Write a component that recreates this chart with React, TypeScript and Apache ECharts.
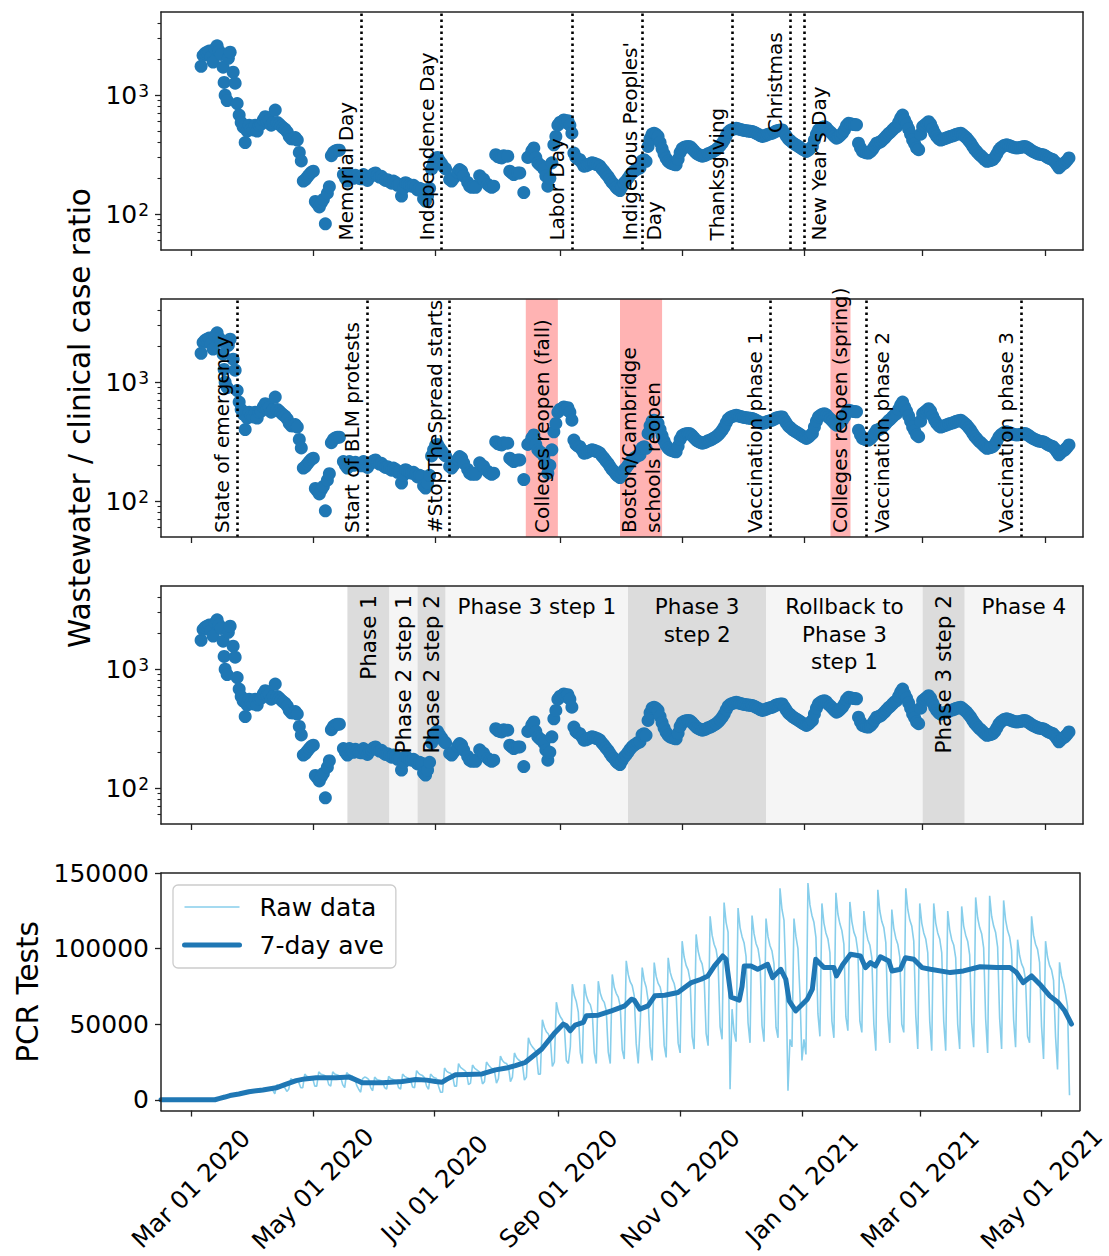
import React, { useEffect, useRef } from "react";
import * as echarts from "echarts";

const FONT = "DejaVu Sans";
const SPINE = "#222222";
const BLUE = "#1f77b4";
const SKY = "#87ceeb";
const PINK = "#ffb3b3";
const DARK_BAND = "#dcdcdc";
const LIGHT_BAND = "#f5f5f5";

// ---------- axes ----------
const dayZero = "2020-03-01";
const xRange = ["2020-02-15", "2021-05-20"];
const xTickDates = [
  "2020-03-01", "2020-05-01", "2020-07-01", "2020-09-01",
  "2020-11-01", "2021-01-01", "2021-03-01", "2021-05-01",
];
const monthNames = ["Jan", "Feb", "Mar", "Apr", "May", "Jun", "Jul", "Aug", "Sep", "Oct", "Nov", "Dec"];
const ratioRange = [50, 5000];
const ratioMajorTicks = [100, 1000];
const ratioMinorTicks = [60, 70, 80, 90, 200, 300, 400, 500, 600, 700, 800, 900, 2000, 3000, 4000];
const pcrRange = [-7150, 150150];
const pcrTicks = [0, 50000, 100000, 150000];

// ---------- wastewater / clinical case ratio: [days since 2020-03-01, ratio] ----------
const wastewaterRatio: [number, number][] = [
  [5, 1750], [6, 2150], [7, 2250], [8, 2300], [9, 2350], [10, 2100], [11, 1900], [12, 2450], [13, 2600],
  [14, 2350], [15, 2200], [16, 1720], [16.5, 1280], [17, 1000], [18, 900], [18.6, 2040], [19.5, 2300],
  [21, 1560], [22, 1260], [23, 850], [24, 680], [25, 590], [26, 540], [27, 400], [28, 500], [29, 560],
  [30, 520], [31, 510], [32, 560], [33, 500], [34, 560], [35, 570], [36, 620], [37, 660], [38, 600],
  [39, 610], [40, 560], [41, 590], [42, 750], [43, 590], [44, 570], [45, 550], [46, 530], [47, 515],
  [48, 490], [49, 450], [50, 430], [51, 430], [52, 440], [53, 420], [54, 330], [55, 280], [56, 190],
  [57, 195], [58, 205], [59, 215], [60, 225], [61, 230], [62, 128], [63, 122], [64, 115], [65, 125],
  [66, 133], [67, 83], [68, 150], [69, 170], [70, 310], [71, 330], [72, 340], [73, 345], [74, 345],
  [76, 215], [77, 200], [78, 190], [79, 215], [80, 205], [81, 200], [82, 212], [83, 208], [84, 200],
  [85, 198], [86, 215], [87, 205], [88, 192], [89, 205], [90, 210], [91, 218], [92, 222], [93, 212],
  [94, 205], [95, 208], [96, 198], [97, 192], [98, 195], [99, 188], [100, 182], [101, 190], [102, 185],
  [103, 175], [104, 178], [105, 142], [106, 165], [107, 184], [108, 180], [109, 175], [110, 172],
  [111, 175], [112, 168], [113, 160], [114, 165], [115, 162], [116, 135], [117, 129], [118, 142],
  [119, 165], [120, 240], [121, 270], [122, 295], [123, 300], [124, 280], [125, 265], [126, 250],
  [127, 240], [129, 196], [130, 190], [131, 200], [133, 225], [134, 237], [135, 230], [136, 209],
  [138, 185], [139, 172], [140, 168], [141, 172], [142, 168], [144, 210], [145, 200], [146, 196],
  [148, 178], [149, 172], [150, 168], [151, 172], [152, 316], [153, 305], [154, 300], [155, 297],
  [156, 310], [158, 307], [159, 230], [160, 222], [161, 215], [163, 222], [164, 222], [166, 152],
  [168, 300], [169, 307], [170, 340], [171, 360], [172, 300], [173, 270], [174, 260], [175, 253],
  [176, 240], [177, 209], [178, 172], [179, 200], [180, 270], [181, 383], [182, 450], [183, 560],
  [184, 590], [185, 600], [186, 620], [187, 590], [188, 610], [189, 560], [190, 479], [191, 326],
  [192, 300], [193, 290], [194, 287], [195, 270], [196, 253], [197, 255], [198, 260], [199, 265],
  [200, 270], [201, 268], [202, 262], [203, 260], [204, 253], [205, 240], [206, 230], [207, 218],
  [208, 208], [209, 196], [210, 185], [211, 178], [212, 168], [213, 162], [214, 158], [215, 170],
  [216, 182], [217, 190], [218, 200], [219, 212], [220, 222], [221, 230], [222, 236], [223, 242],
  [224, 245], [225, 280], [226, 287], [227, 278], [228, 371], [229, 430], [230, 470], [231, 479],
  [232, 468], [233, 450], [234, 400], [235, 355], [236, 320], [237, 295], [238, 278], [239, 270],
  [240, 266], [241, 262], [242, 260], [243, 290], [244, 330], [245, 355], [246, 365], [247, 368],
  [248, 371], [249, 368], [250, 355], [251, 340], [252, 326], [253, 318], [254, 312], [255, 307],
  [256, 310], [257, 315], [258, 322], [259, 326], [260, 333], [261, 340], [262, 348], [263, 360],
  [264, 375], [265, 395], [266, 420], [267, 455], [268, 490], [269, 505], [270, 515], [271, 522],
  [272, 527], [273, 522], [274, 515], [275, 510], [276, 506], [277, 503], [278, 500], [279, 497],
  [280, 495], [281, 488], [282, 478], [283, 468], [284, 458], [285, 450], [286, 455], [287, 462],
  [288, 470], [289, 475], [290, 479], [291, 490], [292, 500], [293, 505], [294, 510], [295, 510],
  [296, 480], [297, 452], [298, 428], [299, 415], [300, 400], [301, 390], [302, 380], [303, 372],
  [304, 362], [305, 352], [306, 345], [307, 337], [308, 345], [309, 358], [310, 371], [311, 420],
  [312, 470], [313, 510], [314, 525], [315, 538], [316, 544], [317, 530], [318, 505], [319, 490],
  [320, 470], [321, 450], [322, 435], [323, 445], [324, 460], [325, 479], [326, 510], [327, 555],
  [328, 580], [329, 575], [330, 570], [331, 566], [332, 563], [333, 395], [334, 360], [335, 337],
  [336, 332], [337, 328], [338, 326], [339, 335], [340, 350], [341, 372], [342, 395], [343, 400],
  [344, 405], [345, 420], [346, 435], [347, 455], [348, 475], [349, 490], [350, 510], [351, 530],
  [352, 544], [353, 590], [354, 640], [355, 681], [356, 620], [357, 570], [358, 520], [359, 470],
  [360, 420], [361, 390], [362, 360], [363, 348], [364, 470], [365, 544], [366, 560], [367, 580],
  [368, 599], [369, 570], [370, 520], [371, 479], [372, 450], [373, 430], [374, 420], [375, 425],
  [376, 432], [377, 438], [378, 445], [379, 450], [380, 455], [381, 462], [382, 470], [383, 475],
  [384, 479], [385, 465], [386, 450], [387, 435], [388, 415], [389, 395], [390, 371], [391, 350],
  [392, 335], [393, 320], [394, 310], [395, 298], [396, 287], [397, 278], [398, 280], [399, 283],
  [400, 287], [401, 300], [402, 320], [403, 345], [404, 360], [405, 372], [406, 380], [407, 383],
  [408, 378], [409, 372], [410, 366], [411, 362], [412, 360], [413, 362], [414, 365], [415, 368],
  [416, 371], [417, 365], [418, 355], [419, 345], [420, 337], [421, 330], [422, 325], [423, 320],
  [424, 318], [425, 316], [426, 310], [427, 302], [428, 296], [429, 291], [430, 287], [431, 275],
  [432, 260], [433, 245], [434, 255], [435, 265], [436, 270], [437, 282], [438, 297],
];

// ---------- PCR tests (thousands per day), daily from Sun 2020-02-16 ----------
const pcrRawStart = "2020-02-16";
const pcrRawThousands = [
  0, 0, 0, 0, 0, 0, 0,
  0, 0, 0, 0, 0, 0, 0,
  0, 0, 0, 0, 0, 0, 0,
  0, 0, 0, 0, 0, 0.2, 0.4,
  0.6, 1.5, 2, 2.6, 2.9, 3.1, 2.6,
  2.8, 3.6, 4.1, 4.3, 4.6, 4.4, 3.8,
  4.2, 5.2, 5.6, 5.9, 6.1, 5.9, 5.1,
  5.4, 6.6, 7.2, 7.3, 7.1, 6.9, 6.2,
  4, 10, 9, 8.8, 8.5, 8, 5.5,
  7, 14, 13, 12.5, 12.3, 11.5, 8,
  8, 17, 15.5, 15, 14.8, 14, 9,
  9, 18.5, 17, 16.5, 16, 15, 10,
  9, 18.5, 17, 16.5, 16, 15, 10,
  8, 18, 16.5, 16, 15.5, 14.5, 9.5,
  7, 5, 14, 15, 14.5, 13.5, 8,
  6, 15, 13.5, 13, 12.8, 12, 8,
  7, 15.5, 14, 13.5, 13, 12.5, 8,
  7, 17, 15.5, 14.8, 14.2, 13, 8.5,
  8, 19.3, 17.5, 16.5, 16, 14.5, 9,
  7, 17, 15.5, 14.5, 14, 9, 5,
  5, 21, 19, 18, 17.5, 16, 9,
  9, 24, 21.5, 20.5, 19.5, 18, 10,
  11, 23, 21, 20, 19, 17.5, 10.5,
  12, 25, 23, 21.5, 20.5, 19, 11,
  14, 29, 26, 24.5, 24, 22, 12,
  15, 31, 28, 26.5, 25.5, 23.5, 13,
  15, 41, 37, 35, 33.5, 31, 17,
  17, 53, 48, 45, 43.5, 40, 22,
  25, 64.6, 58, 55, 53, 48.5, 26,
  24, 35, 76.5, 69, 65, 58, 31,
  24, 76.5, 69, 65, 63, 57.5, 31,
  24, 78.5, 70.5, 66.5, 64.5, 59, 31.5,
  24, 83, 74.5, 70.5, 68, 62, 33,
  27, 92, 83, 78, 75.5, 69, 37,
  24, 50, 87.5, 79, 74.5, 65.5, 35,
  26, 90.8, 81.7, 77, 74.5, 68, 36,
  28, 94, 84.5, 80, 77, 70.5, 37.5,
  31, 105, 94.5, 89, 86, 79, 42,
  33.6, 109.5, 98.5, 93, 90, 82, 44,
  35.8, 121.5, 109, 103, 99.5, 91, 48.5,
  40, 130.6, 117.5, 111, 7, 60, 45,
  38.5, 127, 114, 108, 104, 95, 51,
  37.7, 122, 110, 103.5, 100, 91.5, 49,
  38.5, 120, 108, 102, 98.5, 90, 48,
  41, 140, 126, 119, 80, 6, 40,
  35, 120, 108, 100, 70, 26, 40,
  30, 143.5, 129, 122, 117.5, 107.5, 57,
  42, 130, 117, 110.5, 106.5, 97.5, 52,
  41, 137, 123, 116.5, 112, 103, 55,
  45.7, 131, 118, 111, 107.5, 98, 52,
  44.6, 125, 112.5, 106, 102.5, 94, 50,
  32.5, 139, 125, 118, 114, 104, 55.6,
  37.7, 126, 113.5, 107, 103, 94.5, 50,
  44.6, 140, 126, 119, 115, 105, 56,
  33.6, 130, 117, 110.5, 106.5, 97.5, 52,
  32.5, 130, 117, 110.5, 106.5, 97.5, 52,
  32.5, 125, 112.5, 106, 102.5, 94, 50,
  33.6, 128, 115, 109, 105, 96, 51,
  34.8, 134, 120.5, 114, 110, 100.5, 53.6,
  31, 135, 121.5, 115, 110.7, 101, 54,
  33.6, 132, 119, 112, 108, 99, 53,
  34.8, 106, 95.5, 90, 87, 79.5, 42,
  37.7, 121.5, 109, 103, 99.6, 91, 48.6,
  27, 105, 94.5, 89, 86, 79, 42,
  20, 91, 82, 77, 70, 62, 3,
];

// 7-day average: [days since 2020-03-01, thousands]
const pcrAvgThousands: [number, number][] = [
  [-15, 0], [12, 0], [14, 0.8], [17, 1.8], [19.5, 2.8], [24, 3.8], [29, 5.3], [36, 6.5], [42.7, 7.9],
  [47, 10], [52.7, 12.7], [57, 13.8], [62.7, 14.5], [72.7, 14.5], [79.3, 15], [82, 13.5], [85.9, 11.2],
  [95.8, 11.2], [105.8, 12.1], [112.6, 13.4], [118, 13], [122.5, 12.1], [125.8, 11.6], [128, 13.5],
  [132.5, 16.5], [138, 16.8], [145.8, 17.1], [152.5, 19.8], [158, 21], [162.5, 22.6], [167.5, 24.8],
  [175.7, 33.6], [182.4, 44.6], [186.5, 50.1], [188, 49], [189.9, 45.7], [192.4, 49.4], [196.5, 51.2],
  [198, 55.6], [204, 56], [210.6, 58.9], [217.3, 62.2], [220.6, 66.6], [222, 66], [224.8, 60],
  [228.9, 62.2], [232.3, 68.8], [237.3, 69.2], [243.9, 71], [250.6, 77.6], [255.5, 79.8], [258.9, 82],
  [262.2, 88.6], [266.3, 95.2], [268, 93], [269.3, 80], [270.5, 68], [274.6, 66], [276, 75],
  [277.1, 88.6], [280.5, 88.6], [283.8, 86.4], [288.8, 89.7], [291.3, 80.9], [295.4, 86.4],
  [297.9, 79.8], [299.6, 65.5], [302.9, 58.9], [308.7, 66.6], [311.2, 73.2], [312.9, 93], [317, 87.5],
  [322, 87.5], [323.3, 82], [326.2, 89], [330.3, 96.3], [335.3, 95.2], [337.8, 87.5], [340.3, 90.8],
  [342.8, 88.6], [345.3, 94.7], [349.5, 91.9], [351.1, 85.3], [355.3, 86.4], [357.8, 94], [362, 93],
  [366.1, 87.5], [370.3, 86.4], [380.3, 84.2], [386.9, 85.3], [395.2, 88.1], [403.5, 87.5],
  [410.2, 87.5], [413.5, 84.2], [416.8, 77.6], [421, 82], [425.1, 76.5], [430.1, 68.8], [434.3, 64.4],
  [437.6, 58.9], [441, 50.1],
];

// ---------- annotations ----------
const holidays = [
  { label: "Memorial Day", date: "2020-05-25", side: "left", at: 60 },
  { label: "Independence Day", date: "2020-07-04", side: "left", at: 60 },
  { label: "Labor Day", date: "2020-09-07", side: "left", at: 60 },
  { label: "Indigenous Peoples'\nDay", date: "2020-10-12", side: "center", at: 60 },
  { label: "Thanksgiving", date: "2020-11-26", side: "left", at: 60 },
  { label: "Christmas", date: "2020-12-25", side: "left", at: 480 },
  { label: "New Year's Day", date: "2021-01-01", side: "right", at: 60 },
];
const events = [
  { label: "State of emergency", date: "2020-03-24", side: "left" },
  { label: "Start of BLM protests", date: "2020-05-28", side: "left" },
  { label: "#StopTheSpread starts", date: "2020-07-08", side: "left" },
  { label: "Vaccination phase 1", date: "2020-12-15", side: "left" },
  { label: "Vaccination phase 2", date: "2021-02-01", side: "right" },
  { label: "Vaccination phase 3", date: "2021-04-19", side: "left" },
];
const eventBands = [
  { label: "Colleges reopen (fall)", start: "2020-08-15", end: "2020-08-31" },
  { label: "Boston/Cambridge\nschools reopen", start: "2020-10-01", end: "2020-10-22" },
  { label: "Colleges reopen (spring)", start: "2021-01-14", end: "2021-01-24" },
];
const phases = [
  { label: "Phase 1", start: "2020-05-18", end: "2020-06-08", dark: true, vertical: true },
  { label: "Phase 2 step 1", start: "2020-06-08", end: "2020-06-22", dark: false, vertical: true },
  { label: "Phase 2 step 2", start: "2020-06-22", end: "2020-07-06", dark: true, vertical: true },
  { label: "Phase 3 step 1", start: "2020-07-06", end: "2020-10-05", dark: false, vertical: false },
  { label: "Phase 3\nstep 2", start: "2020-10-05", end: "2020-12-13", dark: true, vertical: false },
  { label: "Rollback to\nPhase 3\nstep 1", start: "2020-12-13", end: "2021-03-01", dark: false, vertical: false },
  { label: "Phase 3 step 2", start: "2021-03-01", end: "2021-03-22", dark: true, vertical: true },
  { label: "Phase 4", start: "2021-03-22", end: "2021-05-20", dark: false, vertical: false },
];

// ---------- helpers ----------
const toTime = (s: string) => {
  const [y, m, d] = s.split("-").map(Number);
  return Date.UTC(y, m - 1, d);
};
const DAY_MS = 86400000;
const T0 = toTime(dayZero);
const fromDay = (d: number) => T0 + d * DAY_MS;
const fmtDate = (v: number) => {
  const d = new Date(v);
  const dd = String(d.getUTCDate()).padStart(2, "0");
  return `${monthNames[d.getUTCMonth()]} ${dd} ${d.getUTCFullYear()}`;
};

const GRID_TOPS = [12, 299, 586, 873];
const GRID_H = 238;
const TICK_FONT = 25;
const lineStyleSpine = { color: SPINE, width: 1.5 };

function buildOption(): any {
  const xMin = toTime(xRange[0]);
  const xMax = toTime(xRange[1]);
  const xTicks = xTickDates.map(toTime);

  const grid = GRID_TOPS.map((top) => ({ left: 161, right: 26, top, height: GRID_H, containLabel: false }));

  const xAxis: any[] = [];
  for (let i = 0; i < 4; i++) {
    const withLabels = i === 3;
    xAxis.push({
      type: "value", gridIndex: i, position: "bottom", min: xMin, max: xMax, z: 10, scale: true,
      axisLine: { show: true, onZero: false, lineStyle: lineStyleSpine },
      axisTick: { show: true, length: 6, lineStyle: { color: SPINE, width: 1.3 }, customValues: xTicks },
      axisLabel: withLabels
        ? {
            show: true, customValues: xTicks, formatter: (v: number) => fmtDate(v), rotate: 45,
            align: "center", verticalAlign: "middle", margin: 78, fontSize: 24.5, fontFamily: FONT,
            color: "#000", hideOverlap: false,
          }
        : { show: false },
      splitLine: { show: false },
    });
    xAxis.push({
      type: "value", gridIndex: i, position: "top", min: xMin, max: xMax, z: 10, scale: true,
      axisLine: { show: true, onZero: false, lineStyle: lineStyleSpine },
      axisTick: { show: false }, axisLabel: { show: false }, splitLine: { show: false },
    });
  }

  const yAxis: any[] = [];
  for (let i = 0; i < 3; i++) {
    yAxis.push({
      type: "log", logBase: 10, gridIndex: i, min: ratioRange[0], max: ratioRange[1], position: "left", z: 10,
      axisLine: { show: true, onZero: false, lineStyle: lineStyleSpine },
      axisTick: { show: true, length: 6, lineStyle: { color: SPINE, width: 1.3 }, customValues: ratioMajorTicks },
      axisLabel: {
        show: true, customValues: ratioMajorTicks, margin: 12,
        formatter: (v: number) => `{b|10}{s|${Math.round(Math.log10(v))}}`,
        rich: {
          b: { fontSize: TICK_FONT, fontFamily: FONT, color: "#000" },
          s: { fontSize: 17, fontFamily: FONT, color: "#000", verticalAlign: "top", padding: [0, 0, 0, 1] },
        },
      },
      splitLine: { show: false },
    });
    yAxis.push({
      type: "log", logBase: 10, gridIndex: i, min: ratioRange[0], max: ratioRange[1], position: "left", z: 10,
      axisLine: { show: false },
      axisTick: { show: true, length: 3.5, lineStyle: { color: SPINE, width: 1.1 }, customValues: ratioMinorTicks },
      axisLabel: { show: false }, splitLine: { show: false },
    });
    yAxis.push({
      type: "value", gridIndex: i, min: 0, max: 1, position: "right", z: 10,
      axisLine: { show: true, onZero: false, lineStyle: lineStyleSpine },
      axisTick: { show: false }, axisLabel: { show: false }, splitLine: { show: false },
    });
  }
  yAxis.push({
    type: "value", gridIndex: 3, min: pcrRange[0], max: pcrRange[1], position: "left", z: 10,
    axisLine: { show: true, onZero: false, lineStyle: lineStyleSpine },
    axisTick: { show: true, length: 6, lineStyle: { color: SPINE, width: 1.3 }, customValues: pcrTicks },
    axisLabel: {
      show: true, customValues: pcrTicks, margin: 12, fontSize: TICK_FONT, fontFamily: FONT, color: "#000",
      formatter: (v: number) => String(v),
    },
    splitLine: { show: false },
  });
  yAxis.push({
    type: "value", gridIndex: 3, min: 0, max: 1, position: "right", z: 10,
    axisLine: { show: true, onZero: false, lineStyle: lineStyleSpine },
    axisTick: { show: false }, axisLabel: { show: false }, splitLine: { show: false },
  });

  const wwData = wastewaterRatio.map(([d, v]) => [fromDay(d), v]);
  const rawStart = toTime(pcrRawStart);
  const rawData = pcrRawThousands.map((v, i) => [rawStart + i * DAY_MS, v * 1000]);
  const avgData = pcrAvgThousands.map(([d, v]) => [fromDay(d), v * 1000]);

  const scatter = (xi: number, yi: number) => ({
    type: "scatter", xAxisIndex: xi, yAxisIndex: yi, data: wwData, symbolSize: 13,
    itemStyle: { color: BLUE, opacity: 1 }, z: 3, silent: true,
  });
  const dotted = { color: "#000", width: 2.6, type: [2.6, 3.4], cap: "butt" };

  const series: any[] = [
    scatter(0, 0),
    scatter(2, 3),
    scatter(4, 6),
    {
      type: "line", xAxisIndex: 0, yAxisIndex: 0, data: [], z: 5, silent: true,
      markLine: {
        silent: true, symbol: ["none", "none"], label: { show: false }, lineStyle: dotted, animation: false,
        data: holidays.map((h) => ({ xAxis: toTime(h.date) })),
      },
    },
    {
      type: "line", xAxisIndex: 2, yAxisIndex: 3, data: [], z: 1, silent: true,
      markArea: {
        silent: true, label: { show: false }, animation: false,
        data: eventBands.map((b) => [
          { xAxis: toTime(b.start), itemStyle: { color: PINK, opacity: 1 } },
          { xAxis: toTime(b.end) },
        ]),
      },
    },
    {
      type: "line", xAxisIndex: 2, yAxisIndex: 3, data: [], z: 5, silent: true,
      markLine: {
        silent: true, symbol: ["none", "none"], label: { show: false }, lineStyle: dotted, animation: false,
        data: events.map((e) => ({ xAxis: toTime(e.date) })),
      },
    },
    {
      type: "line", xAxisIndex: 4, yAxisIndex: 6, data: [], z: 1, silent: true,
      markArea: {
        silent: true, label: { show: false }, animation: false,
        data: phases.map((p) => [
          { xAxis: toTime(p.start), itemStyle: { color: p.dark ? DARK_BAND : LIGHT_BAND, opacity: 1 } },
          { xAxis: toTime(p.end) },
        ]),
      },
    },
    {
      type: "line", name: "Raw data", xAxisIndex: 6, yAxisIndex: 9, data: rawData, symbol: "none",
      showSymbol: false, lineStyle: { color: SKY, width: 1.6 }, itemStyle: { color: SKY }, z: 2, silent: true,
    },
    {
      type: "line", name: "7-day ave", xAxisIndex: 6, yAxisIndex: 9, data: avgData, symbol: "none",
      showSymbol: false, lineStyle: { color: BLUE, width: 5, cap: "round", join: "round" },
      itemStyle: { color: BLUE }, z: 3, silent: true,
    },
  ];

  const hiddenSymbol = { color: "rgba(0,0,0,0)", borderWidth: 0, opacity: 0 };

  return {
    animation: false,
    backgroundColor: "#ffffff",
    textStyle: { fontFamily: FONT },
    grid,
    xAxis,
    yAxis,
    legend: {
      show: true, orient: "vertical", left: 173, top: 885,
      data: [
        { name: "Raw data", itemStyle: hiddenSymbol, lineStyle: { color: SKY, width: 1.6, opacity: 1 } },
        { name: "7-day ave", itemStyle: hiddenSymbol, lineStyle: { color: BLUE, width: 5, opacity: 1 } },
      ],
      itemStyle: hiddenSymbol,
      itemWidth: 55, itemHeight: 14, itemGap: 10, selectedMode: false,
      textStyle: { fontSize: 25, fontFamily: FONT, color: "#000", lineHeight: 28, padding: [0, 0, 0, 15] },
      backgroundColor: "rgba(255,255,255,0.8)", borderColor: "#cccccc", borderWidth: 1.3, borderRadius: 5,
      padding: [8, 12, 9, 9],
    },
    series,
  };
}

function buildTexts(chart: any): any[] {
  const px = (si: number, t: number, v: number) => chart.convertToPixel({ seriesIndex: si }, [t, v]) as number[];
  const els: any[] = [];
  const mk = (text: string, x: number, y: number, rot: number, size: number, align: string, va: string, lh: number) => ({
    type: "text", x, y, rotation: rot, z: 100, silent: true,
    style: {
      text, fontSize: size, fontFamily: FONT, fill: "#000", align, verticalAlign: va,
      textAlign: align, textVerticalAlign: va, lineHeight: lh,
    },
  });
  const R = Math.PI / 2;
  const sideOpts = (side: string) =>
    side === "left" ? { off: -3, va: "bottom" } : side === "right" ? { off: 3, va: "top" } : { off: 0, va: "middle" };

  for (const h of holidays) {
    const p = px(0, toTime(h.date), h.at);
    const s = sideOpts(h.side);
    els.push(mk(h.label, p[0] + s.off, p[1], R, 20, "left", s.va, 24));
  }
  for (const e of events) {
    const p = px(1, toTime(e.date), 54);
    const s = sideOpts(e.side);
    els.push(mk(e.label, p[0] + s.off, p[1], R, 20, "left", s.va, 24));
  }
  for (const b of eventBands) {
    const a = px(1, toTime(b.start), 54);
    const c = px(1, toTime(b.end), 54);
    els.push(mk(b.label, (a[0] + c[0]) / 2, a[1], R, 20, "left", "middle", 24));
  }
  for (const ph of phases) {
    const a = px(2, toTime(ph.start), ratioRange[1]);
    const c = px(2, toTime(ph.end), ratioRange[1]);
    const cx = (a[0] + c[0]) / 2;
    if (ph.vertical) els.push(mk(ph.label, cx, a[1] + 9, R, 21.5, "right", "middle", 27));
    else els.push(mk(ph.label, cx, a[1] + 7, 0, 21.5, "center", "top", 27.5));
  }
  els.push(mk("Wastewater / clinical case ratio", 80, GRID_TOPS[1] + GRID_H / 2, R, 29.5, "center", "middle", 32));
  els.push(mk("PCR Tests", 28, GRID_TOPS[3] + GRID_H / 2, R, 29.5, "center", "middle", 32));
  return els;
}

export default function App() {
  const ref = useRef<HTMLDivElement>(null);
  useEffect(() => {
    if (!ref.current) return;
    const chart = echarts.init(ref.current, null, { renderer: "svg" });
    chart.setOption(buildOption());
    try {
      chart.setOption({ graphic: { elements: buildTexts(chart) } });
    } catch (e) {
      console.error(e);
    }
    return () => chart.dispose();
  }, []);
  return (
    <div
      ref={ref}
      style={{ position: "absolute", left: 0, top: 0, width: 1109, height: 1256, background: "#fff" }}
    />
  );
}
